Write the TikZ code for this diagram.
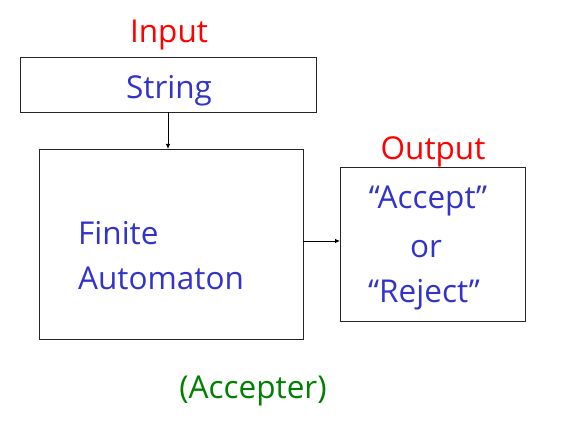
\documentclass[tikz,border=0pt]{standalone}
\usepackage{fontspec}
\setmainfont{Open Sans}
\usetikzlibrary{arrows.meta}
\definecolor{tblue}{RGB}{51,51,204}
\definecolor{tred}{RGB}{255,0,0}
\definecolor{tgreen}{RGB}{0,128,0}
\tikzset{
  box/.style={draw=black!85, line width=0.9pt},
  lbl/.style={font=\fontsize{31.5}{36}\selectfont, inner sep=0pt},
  conn/.style={draw=black, line width=0.8pt, -{Latex[length=5pt,width=4.5pt]}}
}
\begin{document}
\begin{tikzpicture}[x=1pt,y=-1pt]
\useasboundingbox (0,0) rectangle (567,438);
\path[box] (20,57) rectangle (316,112);
\coordinate (strS) at (168,112);
\coordinate (faN) at (168,149);
\path[box] (39,149) rectangle (303,339);
\path[box] (340,167) rectangle (525,321);
\coordinate (faE) at (303,241);
\coordinate (outW) at (340,241);
\node[lbl, text=tred] (input) at (169,35) {Input};
\node[lbl, text=tblue] (string) at (169,91) {String};
\node[lbl, text=tred] (output) at (433,152) {Output};
\node[lbl, text=tblue] (accept) at (428,201) {“Accept”};
\node[lbl, text=tblue] (or) at (426,249) {or};
\node[lbl, text=tblue] (reject) at (424,295) {“Reject”};
\node[lbl, text=tblue, anchor=west] (finite) at (78,233) {Finite};
\node[lbl, text=tblue, anchor=west] (autom) at (78,278) {Automaton};
\node[lbl, text=tgreen] (accepter) at (253,391) {(Accepter)};
\draw[conn] (strS) -- (faN);
\draw[conn] (faE) -- (outW);
\end{tikzpicture}
\end{document}
